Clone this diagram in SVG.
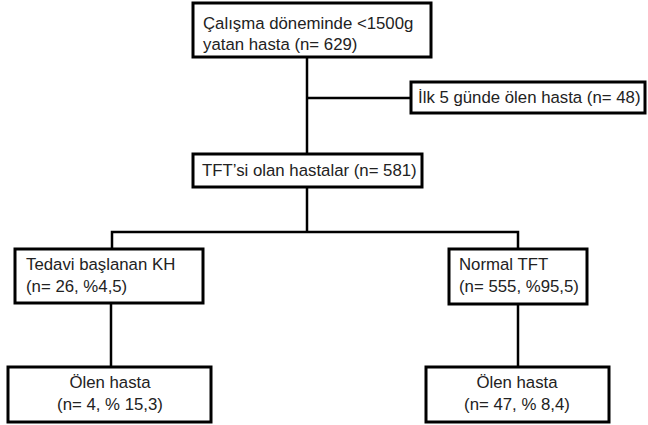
<svg xmlns="http://www.w3.org/2000/svg" width="648" height="425" viewBox="0 0 648 425">
<style>
.box{fill:#fff;stroke:#000;stroke-width:3}
.ln{fill:none;stroke:#000;stroke-width:2.5}
text{font-family:"Liberation Sans",Arial,sans-serif;font-size:16.8px;fill:#222}
.c{text-anchor:middle}
</style>
<rect width="648" height="425" fill="#fff"/>
<g id="connectors">
<line class="ln" x1="307" y1="57" x2="307" y2="154"/>
<line class="ln" x1="307" y1="98" x2="411" y2="98"/>
<line class="ln" x1="307" y1="187" x2="307" y2="232"/>
<polyline class="ln" points="112,249 112,232 518,232 518,249"/>
<line class="ln" x1="111" y1="303" x2="111" y2="367"/>
<line class="ln" x1="518" y1="304" x2="518" y2="367"/>
</g>
<g id="n1">
<rect class="box" x="193" y="3" width="238" height="54"/>
<text x="203" y="29">Çalışma döneminde &lt;1500g</text>
<text x="203" y="50">yatan hasta (n= 629)</text>
</g>
<g id="n2">
<rect class="box" x="411" y="82" width="234" height="31"/>
<text x="418" y="103">İlk 5 günde ölen hasta (n= 48)</text>
</g>
<g id="n3">
<rect class="box" x="193" y="154" width="229" height="33"/>
<text x="202" y="176">TFT’si olan hastalar (n= 581)</text>
</g>
<g id="n4">
<rect class="box" x="15" y="249" width="188" height="54"/>
<text x="26" y="270">Tedavi başlanan KH</text>
<text x="26" y="292">(n= 26, %4,5)</text>
</g>
<g id="n5">
<rect class="box" x="449" y="249" width="138" height="55"/>
<text x="459" y="270">Normal TFT</text>
<text x="459" y="292">(n= 555, %95,5)</text>
</g>
<g id="n6">
<rect class="box" x="8" y="367" width="203" height="55"/>
<text class="c" x="110" y="388">Ölen hasta</text>
<text class="c" x="110" y="410">(n= 4, % 15,3)</text>
</g>
<g id="n7">
<rect class="box" x="426" y="367" width="183" height="55"/>
<text class="c" x="517" y="388">Ölen hasta</text>
<text class="c" x="517" y="410">(n= 47, % 8,4)</text>
</g>
</svg>
